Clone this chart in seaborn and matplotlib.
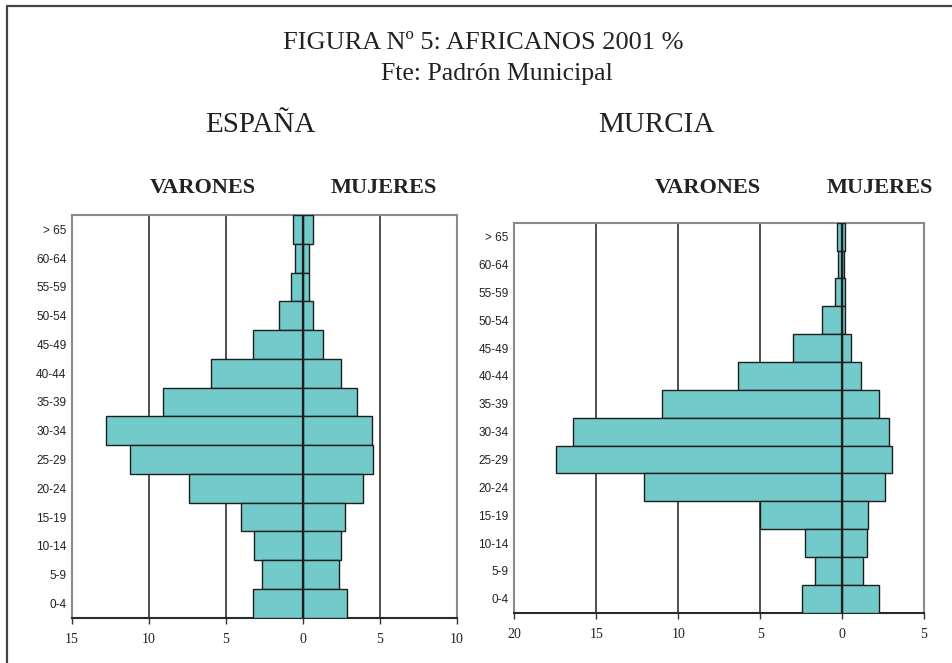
import matplotlib
matplotlib.use("Agg")
import matplotlib.pyplot as plt
from matplotlib.lines import Line2D
from matplotlib.ticker import FuncFormatter, FixedLocator
import seaborn as sns
import pandas as pd

# ---- data ----
age_groups = ["> 65", "60-64", "55-59", "50-54", "45-49", "40-44", "35-39",
              "30-34", "25-29", "20-24", "15-19", "10-14", "5-9", "0-4"]
espana_varones = [0.65, 0.54, 0.76, 1.52, 3.21, 5.94, 9.10, 12.79, 11.25, 7.39, 4.01, 3.19, 2.67, 3.27]
espana_mujeres = [0.69, 0.39, 0.43, 0.69, 1.30, 2.47, 3.51, 4.47, 4.57, 3.90, 2.71, 2.47, 2.36, 2.90]
murcia_varones = [0.28, 0.26, 0.45, 1.20, 2.97, 6.34, 11.00, 16.44, 17.44, 12.11, 4.98, 2.28, 1.67, 2.44]
murcia_mujeres = [0.20, 0.12, 0.20, 0.20, 0.55, 1.14, 2.24, 2.89, 3.07, 2.60, 1.59, 1.52, 1.30, 2.24]
espana_ticks = [-15, -10, -5, 0, 5, 10]
murcia_ticks = [-20, -15, -10, -5, 0, 5]

title = "FIGURA Nº 5: AFRICANOS 2001 %"
subtitle = "Fte: Padrón Municipal"
panel_titles = ["ESPAÑA", "MURCIA"]
sex_labels = ["VARONES", "MUJERES"]

BAR = "#72cbca"
SERIF = ["Liberation Serif", "DejaVu Serif"]
NARROW = ["Liberation Sans Narrow", "DejaVu Sans Condensed", "Liberation Sans", "DejaVu Sans"]

sns.set_theme(style="white")
plt.rcParams["font.family"] = SERIF

W, H = 953, 663
fig = plt.figure(figsize=(W / 100, H / 100), dpi=100)
fig.patch.set_facecolor("white")


def box(x0, y0, x1, y1):
    return [x0 / W, 1 - y1 / H, (x1 - x0) / W, (y1 - y0) / H]


def pyramid(ax, men, women, ticks):
    df = pd.DataFrame({
        "age": age_groups * 2,
        "value": [-v for v in men] + list(women),
        "sex": ["V"] * len(men) + ["M"] * len(women),
    })
    sns.barplot(data=df, x="value", y="age", hue="sex", order=age_groups,
                dodge=False, palette=[BAR, BAR], saturation=1, width=1.0,
                edgecolor="#1e1e1e", linewidth=1.0, legend=False, ax=ax, zorder=3)
    ax.set_xlim(ticks[0], ticks[-1])
    ax.set_ylim(len(age_groups) - 0.5, -0.5)
    for t in ticks[1:-1]:
        if t != 0:
            ax.axvline(t, color="#1e1e1e", lw=1.1, zorder=1)
    ax.axvline(0, color="#1e1e1e", lw=1.6, zorder=4)
    ax.xaxis.set_major_locator(FixedLocator(ticks))
    ax.xaxis.set_major_formatter(FuncFormatter(lambda v, p: f"{abs(v):g}"))
    ax.set_xlabel("")
    ax.set_ylabel("")
    ax.grid(False)
    ax.tick_params(axis="x", which="major", bottom=True, length=4, width=1.0,
                   color="#333333", direction="out", pad=7, labelsize=10,
                   labelcolor="#222222")
    ax.tick_params(axis="y", length=0, pad=4, labelsize=8.5, labelcolor="#222222")
    for lab in ax.get_yticklabels():
        lab.set_family(NARROW)
    for lab in ax.get_xticklabels():
        lab.set_family(SERIF)
    for s in ["left", "top", "right"]:
        ax.spines[s].set_color("#8a8a8a")
        ax.spines[s].set_linewidth(1.5)
        ax.spines[s].set_visible(True)
    ax.spines["bottom"].set_color("#2a2a2a")
    ax.spines["bottom"].set_linewidth(1.5)
    ax.set_facecolor("white")


ax1 = fig.add_axes(box(72, 215, 456.7, 617.7))
pyramid(ax1, espana_varones, espana_mujeres, espana_ticks)
ax2 = fig.add_axes(box(514.3, 222.7, 924, 612.7))
pyramid(ax2, murcia_varones, murcia_mujeres, murcia_ticks)


def ftext(x, y, s, **kw):
    fig.text(x / W, 1 - y / H, s, ha="center", va="baseline", color="#222222",
             family=SERIF, **kw)


ftext(483, 49, title, fontsize=19)
ftext(497, 80, subtitle, fontsize=18.5)
ftext(260, 131.5, panel_titles[0], fontsize=21)
ftext(656.7, 131.5, panel_titles[1], fontsize=21)
ftext(202.7, 193.3, sex_labels[0], fontsize=16, fontweight="bold")
ftext(383.8, 193.3, sex_labels[1], fontsize=16, fontweight="bold")
ftext(707.8, 193.3, sex_labels[0], fontsize=16, fontweight="bold")
ftext(880, 193.3, sex_labels[1], fontsize=16, fontweight="bold")

# outer frame (top and left edges visible)
fig.add_artist(Line2D([6.5 / W, 6.5 / W], [0, 1 - 5.5 / H], transform=fig.transFigure,
                      color="#444444", lw=1.6))
fig.add_artist(Line2D([6.5 / W, 1], [1 - 5.5 / H, 1 - 5.5 / H], transform=fig.transFigure,
                      color="#444444", lw=1.6))

fig.savefig("out.png", dpi=100)
